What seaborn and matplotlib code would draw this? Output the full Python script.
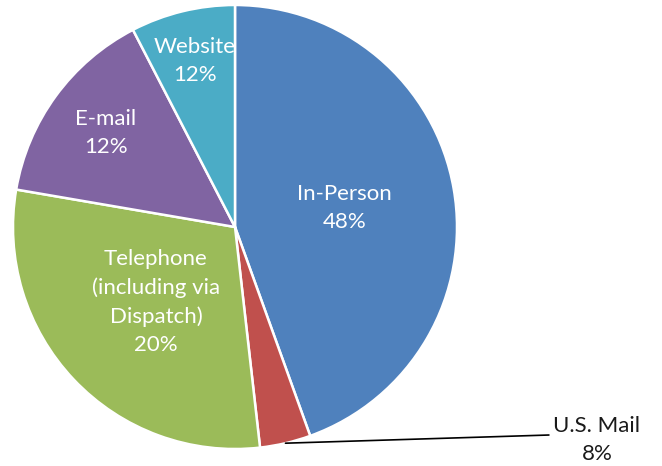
import numpy as np
import matplotlib
matplotlib.use("Agg")
import matplotlib.pyplot as plt
import seaborn as sns

# slice sizes as drawn (angles), labels as printed
channels = ["In-Person", "U.S. Mail", "Telephone\n(including via\nDispatch)", "E-mail", "Website"]
shares = [44.5, 3.7, 29.5, 14.7, 7.6]
pct_labels = ["48%", "8%", "20%", "12%", "12%"]

colors = ["#4F81BD", "#C0504D", "#9BBB59", "#8064A2", "#4BACC6"]
label_r = [0.50, None, 0.49, 0.72, 0.77]

sns.set_theme(style="white")
plt.rcParams["font.family"] = ["Lato", "DejaVu Sans"]

fig = plt.figure(figsize=(6.62, 4.66), dpi=100)
ax = fig.add_axes([13 / 662, 17 / 466, 444 / 662, 444 / 466])

wedges, _ = ax.pie(shares, colors=sns.color_palette(colors), startangle=90,
                   counterclock=False, radius=1.0,
                   wedgeprops=dict(edgecolor="white", linewidth=1.8))

for w, name, pct, r in zip(wedges, channels, pct_labels, label_r):
    mid = np.deg2rad((w.theta1 + w.theta2) / 2)
    if r is None:
        # outside label with leader line
        px, py = np.cos(mid), np.sin(mid)
        ax.plot([px, 1.414], [py, -0.937], color="black", lw=1.2, clip_on=False)
        ax.text(1.63, -0.96, f"{name}\n{pct}", ha="center", va="center",
                fontsize=16, color="#1a1a1a", linespacing=1.5)
    else:
        ax.text(r * np.cos(mid), r * np.sin(mid), f"{name}\n{pct}",
                ha="center", va="center", fontsize=16, color="white",
                linespacing=1.5)

ax.set_xlim(-1, 1)
ax.set_ylim(-1, 1)
ax.set_aspect("equal")
ax.axis("off")

fig.savefig("out.png", dpi=100)
